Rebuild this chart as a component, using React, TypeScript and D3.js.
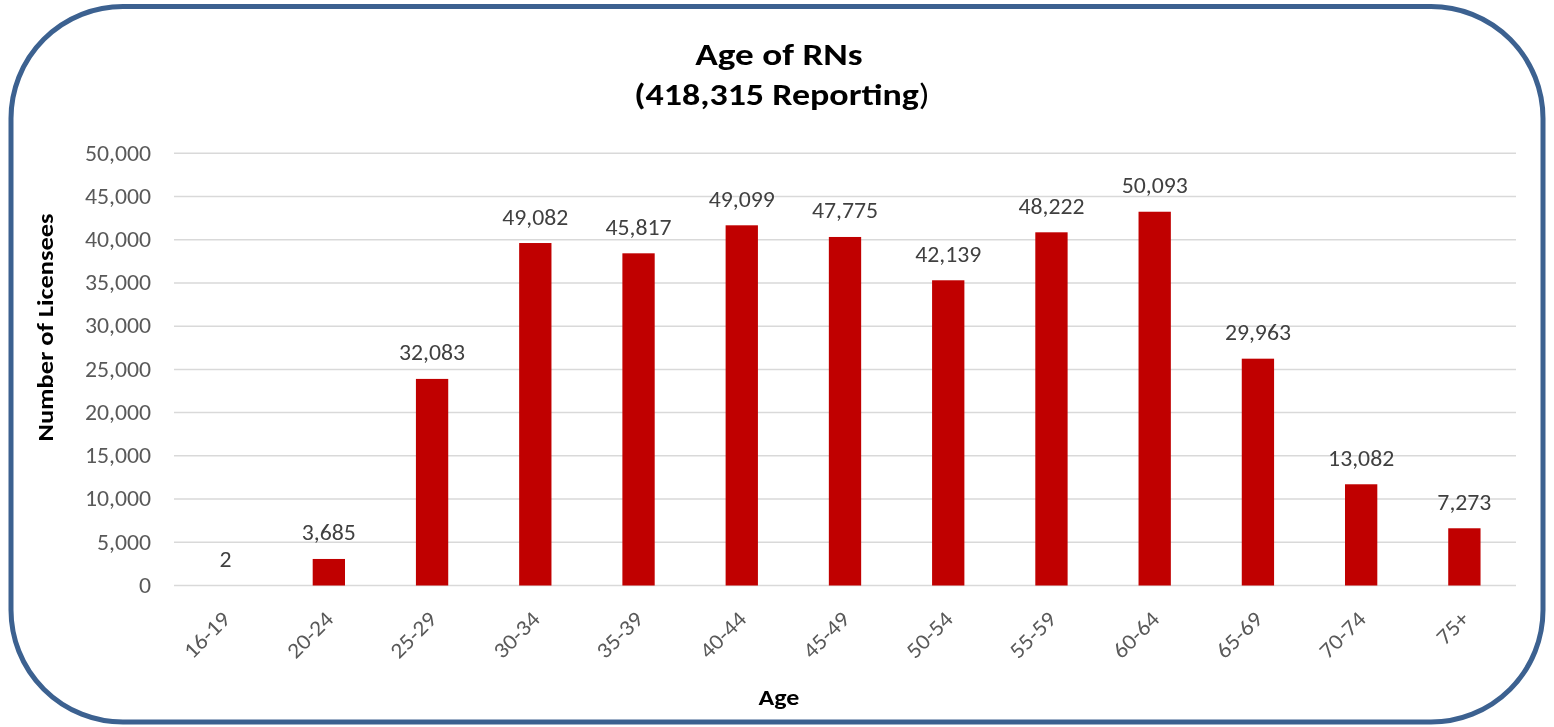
import * as d3 from 'd3';
import { useEffect, useRef } from 'react';

// Age groups on the x axis
const ageGroups = ['16-19', '20-24', '25-29', '30-34', '35-39', '40-44', '45-49', '50-54', '55-59', '60-64', '65-69', '70-74', '75+'];
// Bar heights as drawn in the chart
const barValues = [0, 3070, 23900, 39620, 38430, 41670, 40320, 35310, 40860, 43240, 26240, 11710, 6620];
// Data label text shown above each bar
const dataLabels = ['2', '3,685', '32,083', '49,082', '45,817', '49,099', '47,775', '42,139', '48,222', '50,093', '29,963', '13,082', '7,273'];
const yTicks = [0, 5000, 10000, 15000, 20000, 25000, 30000, 35000, 40000, 45000, 50000];

const FONT = 'Carlito, Lato, "Open Sans", sans-serif';
// the original text is a little wider than Carlito
const REG_STRETCH = 1.08;
const BOLD_STRETCH = 1.18;

export default function App() {
  const svgRef = useRef<SVGSVGElement>(null);

  useEffect(() => {
    if (!svgRef.current) return;
    d3.select(svgRef.current).selectAll('*').remove();

    const W = 1554;
    const H = 727;
    const margin = { top: 153.3, right: 38, bottom: 141.5, left: 174 };
    const width = W - margin.left - margin.right;
    const height = H - margin.top - margin.bottom;

    const svg = d3.select(svgRef.current).attr('width', W).attr('height', H);

    // rounded frame
    svg
      .append('rect')
      .attr('x', 11)
      .attr('y', 6.5)
      .attr('width', 1532)
      .attr('height', 715.5)
      .attr('rx', 112)
      .attr('ry', 112)
      .attr('fill', '#fff')
      .attr('stroke', '#3C6190')
      .attr('stroke-width', 5);

    // title
    svg
      .append('text')
      .attr('transform', `translate(779,65) scale(1.2,1)`)
      .attr('text-anchor', 'middle')
      .attr('font-family', FONT)
      .attr('font-size', 31)
      .attr('font-weight', 'bold')
      .attr('fill', '#000')
      .text('Age of RNs');
    const line2 = svg
      .append('text')
      .attr('transform', `translate(782,105) scale(1.16,1)`)
      .attr('text-anchor', 'middle')
      .attr('font-family', FONT)
      .attr('font-size', 31)
      .attr('fill', '#000');
    line2.append('tspan').attr('font-weight', 'bold').text('(418,315 Reporting');
    line2.append('tspan').text(')');

    const g = svg.append('g').attr('transform', `translate(${margin.left},${margin.top})`);

    const x = d3.scaleBand<string>().domain(ageGroups).range([0, width]).paddingInner(0.687).paddingOuter(0.3435);
    const y = d3.scaleLinear().domain([0, 50000]).range([height, 0]);

    // gridlines
    g.selectAll('line.grid')
      .data(yTicks)
      .enter()
      .append('line')
      .attr('class', 'grid')
      .attr('x1', 0)
      .attr('x2', width)
      .attr('y1', (d) => y(d))
      .attr('y2', (d) => y(d))
      .attr('stroke', '#D9D9D9')
      .attr('stroke-width', 1.5);

    // y axis labels
    g.selectAll('text.ytick')
      .data(yTicks)
      .enter()
      .append('text')
      .attr('class', 'ytick')
      .attr('transform', (d) => `translate(-23,${y(d)}) scale(${REG_STRETCH},1)`)
      .attr('dy', '0.33em')
      .attr('text-anchor', 'end')
      .attr('font-family', FONT)
      .attr('font-size', 22)
      .attr('fill', '#595959')
      .text((d) => d3.format(',')(d));

    // bars
    g.selectAll('rect.bar')
      .data(barValues)
      .enter()
      .append('rect')
      .attr('class', 'bar')
      .attr('x', (_, i) => x(ageGroups[i])!)
      .attr('y', (d) => y(d))
      .attr('width', x.bandwidth())
      .attr('height', (d) => height - y(d))
      .attr('fill', '#C00000');

    // data labels
    g.selectAll('text.dlabel')
      .data(barValues)
      .enter()
      .append('text')
      .attr('class', 'dlabel')
      .attr('transform', (d, i) => `translate(${x(ageGroups[i])! + x.bandwidth() / 2},${y(d) - 18.5}) scale(${REG_STRETCH},1)`)
      .attr('text-anchor', 'middle')
      .attr('font-family', FONT)
      .attr('font-size', 22)
      .attr('fill', '#404040')
      .text((_, i) => dataLabels[i]);

    // x axis labels, rotated
    g.selectAll('text.xtick')
      .data(ageGroups)
      .enter()
      .append('text')
      .attr('class', 'xtick')
      .attr('transform', (d) => `translate(${x(d)! + x.bandwidth() / 2 + 6},${height + 35}) rotate(-45) scale(${REG_STRETCH},1)`)
      .attr('text-anchor', 'end')
      .attr('font-family', FONT)
      .attr('font-size', 22)
      .attr('fill', '#595959')
      .text((d) => d);

    // axis titles
    svg
      .append('text')
      .attr('transform', `translate(779,705) scale(${BOLD_STRETCH},1)`)
      .attr('text-anchor', 'middle')
      .attr('font-family', FONT)
      .attr('font-size', 22)
      .attr('font-weight', 'bold')
      .text('Age');

    svg
      .append('text')
      .attr('transform', `translate(53,327.5) rotate(-90) scale(1.2,1)`)
      .attr('text-anchor', 'middle')
      .attr('font-family', FONT)
      .attr('font-size', 22)
      .attr('font-weight', 'bold')
      .text('Number of Licensees');
  }, []);

  return (
    <div style={{ position: 'fixed', left: 0, top: 0 }}>
      <svg ref={svgRef} style={{ display: 'block' }} />
    </div>
  );
}
